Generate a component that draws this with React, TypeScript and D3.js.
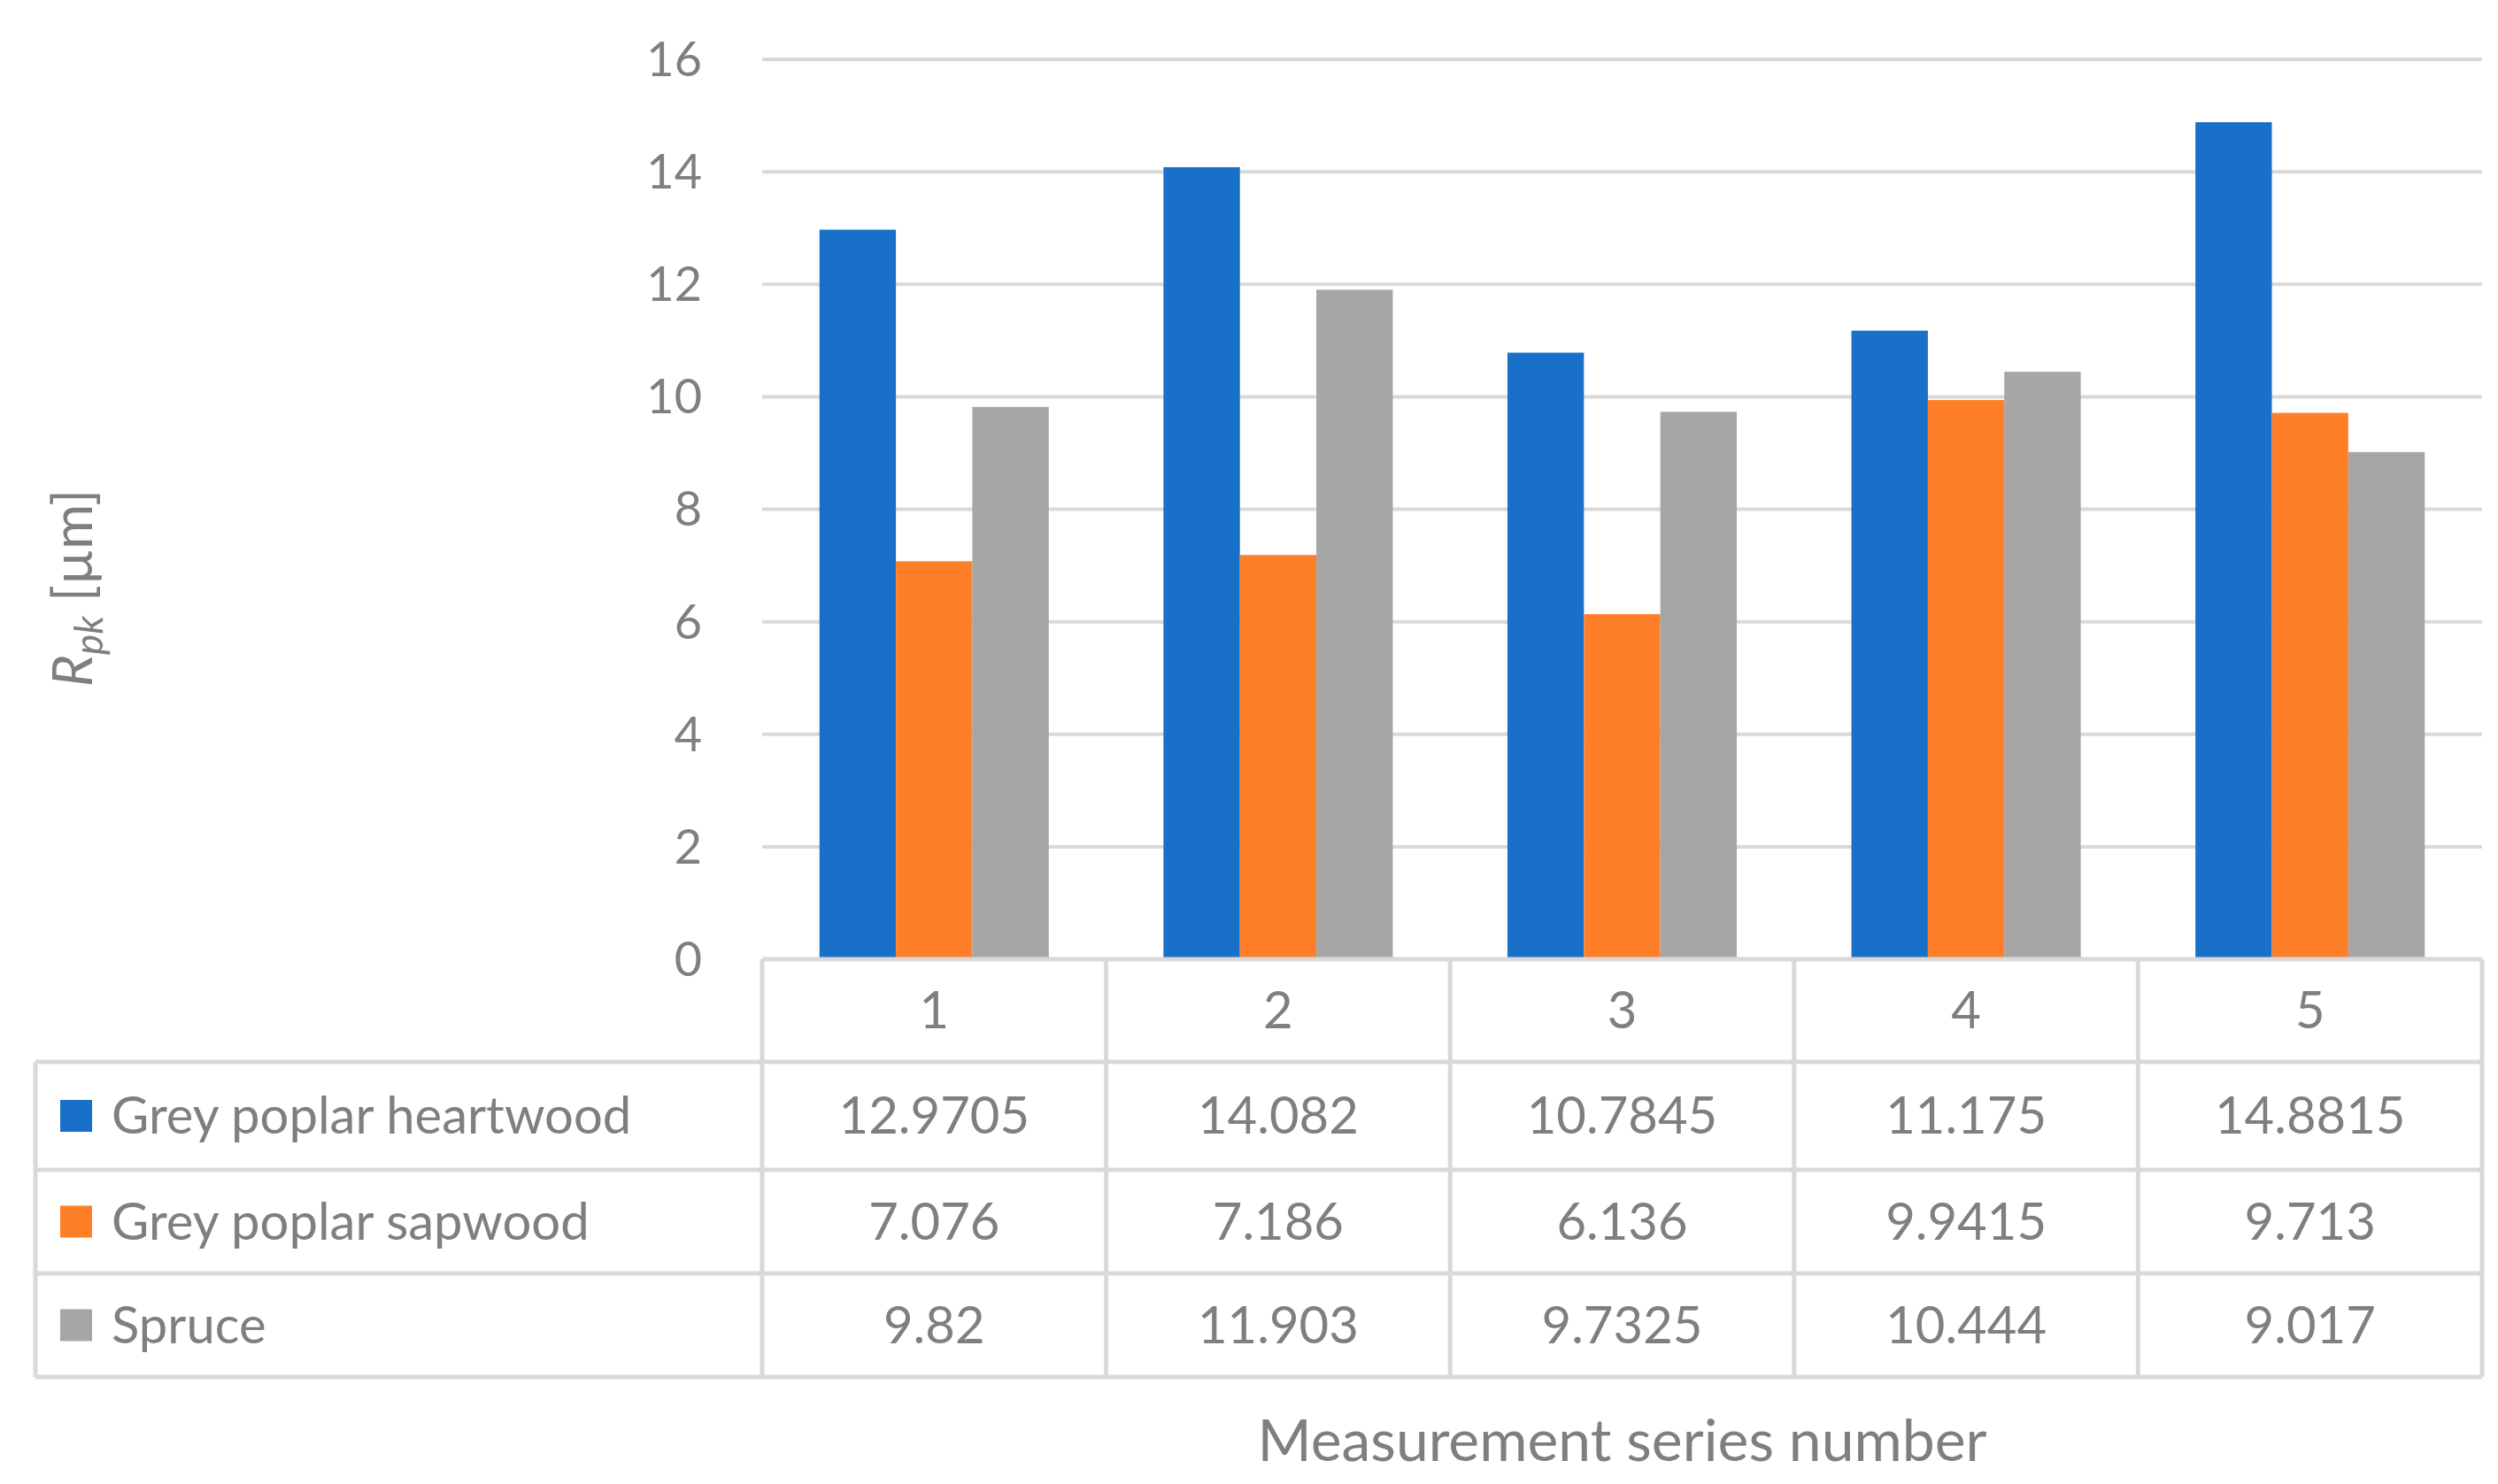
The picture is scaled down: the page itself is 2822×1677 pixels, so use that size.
import React from 'react';
import * as d3 from 'd3';

const categories = ['1', '2', '3', '4', '5'];
const seriesNames = ['Grey poplar heartwood', 'Grey poplar sapwood', 'Spruce'];
const heartwood = [12.9705, 14.082, 10.7845, 11.175, 14.8815];
const sapwood = [7.076, 7.186, 6.136, 9.9415, 9.713];
const spruce = [9.82, 11.903, 9.7325, 10.444, 9.017];
const yTicks = [0, 2, 4, 6, 8, 10, 12, 14, 16];
const colors = ['#1870c8', '#fe7f28', '#a6a6a6'];

const W = 2822;
const H = 1677;
const left = 853;
const right = 2796;
const top = 59;
const bottom = 1076;
const rowEdges = [1076, 1192, 1314, 1431, 1548];
const tableLeft = 32;
const textColor = '#7f7f7f';
const gridColor = '#d9d9d9';
const font = 'Lato, "Open Sans", sans-serif';

export default function App() {
  const series = [heartwood, sapwood, spruce];
  const x = d3.scaleBand().domain(categories).range([left, right]).paddingInner(1 / 3).paddingOuter(1 / 6);
  const x1 = d3.scaleBand().domain(seriesNames).range([0, x.bandwidth()]);
  const y = d3.scaleLinear().domain([0, 16]).range([bottom, top]);
  const step = x.step();
  const colEdges = categories.map((_, i) => left + i * step).concat([right]);
  const fmt = (v: number) => String(v);

  return (
    <svg width={W} height={H} style={{ display: 'block', background: '#fff' }} fontFamily={font}>
      {yTicks.map((t) => (
        <g key={t}>
          {t > 0 && <line x1={left} x2={right} y1={y(t)} y2={y(t)} stroke={gridColor} strokeWidth={4} />}
          <text x={785} y={y(t)} dy="0.35em" textAnchor="end" fontSize={54} fill={textColor}>{t}</text>
        </g>
      ))}
      {series.map((vals, si) =>
        vals.map((v, ci) => (
          <rect key={`${si}-${ci}`} x={(x(categories[ci]) || 0) + (x1(seriesNames[si]) || 0)} width={x1.bandwidth()}
            y={y(v)} height={bottom - y(v)} fill={colors[si]} />
        ))
      )}
      {/* data table */}
      <g stroke={gridColor} strokeWidth={5} fill="none">
        {rowEdges.map((ry, i) => (
          <line key={ry} x1={i === 0 ? left : tableLeft} x2={right} y1={ry} y2={ry} />
        ))}
        {colEdges.map((cx) => (
          <line key={cx} x1={cx} x2={cx} y1={rowEdges[0]} y2={rowEdges[4]} />
        ))}
        <line x1={tableLeft} x2={tableLeft} y1={rowEdges[1]} y2={rowEdges[4]} />
      </g>
      {categories.map((c, i) => (
        <text key={c} x={colEdges[i] + step / 2} y={(rowEdges[0] + rowEdges[1]) / 2} dy="0.35em" textAnchor="middle"
          fontSize={58} fill={textColor}>{c}</text>
      ))}
      {series.map((vals, si) => {
        const cy = (rowEdges[si + 1] + rowEdges[si + 2]) / 2;
        return (
          <g key={si}>
            <rect x={60} y={cy - 18} width={36} height={36} fill={colors[si]} />
            <text x={118} y={cy} dy="0.35em" fontSize={58} fill={textColor}>{seriesNames[si]}</text>
            {vals.map((v, ci) => (
              <text key={ci} x={colEdges[ci] + step / 2} y={cy} dy="0.35em" textAnchor="middle" fontSize={58}
                fill={textColor}>{fmt(v)}</text>
            ))}
          </g>
        );
      })}
      <text x={(left + right) / 2} y={1620} dy="0.35em" textAnchor="middle" fontSize={66} fill={textColor}>
        Measurement series number
      </text>
      <text transform={`translate(96, ${y(6.6)}) rotate(-90)`} textAnchor="middle" fontSize={62} fill={textColor}>
        <tspan fontStyle="italic">R</tspan>
        <tspan fontStyle="italic" fontSize={44} dy={12}>pk</tspan>
        <tspan dy={-12}> [µm]</tspan>
      </text>
    </svg>
  );
}
